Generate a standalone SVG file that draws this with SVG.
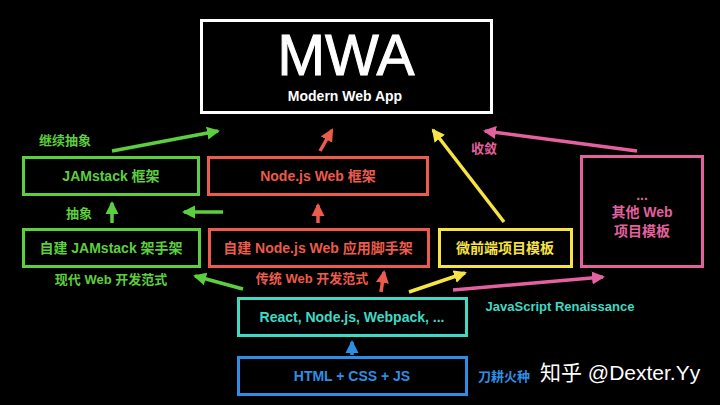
<svg xmlns="http://www.w3.org/2000/svg" width="720" height="405" viewBox="0 0 720 405">
<defs>
<style>
.box{fill:none;stroke-width:3}
.t{font-family:"Liberation Sans","Noto Sans CJK SC",sans-serif;font-weight:bold;font-size:14px;text-anchor:middle;dominant-baseline:central}
.l{font-family:"Liberation Sans","Noto Sans CJK SC",sans-serif;font-weight:bold;font-size:13px;text-anchor:middle;dominant-baseline:central}
.a{fill:none;stroke-width:3.5}
.g{stroke:#5ccf3e}.gf{fill:#5ccf3e}
.r{stroke:#ec5b4b}.rf{fill:#ec5b4b}
.y{stroke:#f6e443}.yf{fill:#f6e443}
.p{stroke:#e2619e}.pf{fill:#e2619e}
.c{stroke:#3fd9c7}.cf{fill:#3fd9c7}
.b{stroke:#2d8fe4}.bf{fill:#2d8fe4}
</style>
<marker id="mg" markerUnits="userSpaceOnUse" markerWidth="14" markerHeight="14" refX="11" refY="6.5" orient="auto" viewBox="0 0 14 13"><path d="M0,0 L13,6.5 L0,13 z" fill="#5ccf3e"/></marker>
<marker id="mr" markerUnits="userSpaceOnUse" markerWidth="14" markerHeight="14" refX="11" refY="6.5" orient="auto" viewBox="0 0 14 13"><path d="M0,0 L13,6.5 L0,13 z" fill="#ec5b4b"/></marker>
<marker id="my" markerUnits="userSpaceOnUse" markerWidth="14" markerHeight="14" refX="11" refY="6.5" orient="auto" viewBox="0 0 14 13"><path d="M0,0 L13,6.5 L0,13 z" fill="#f6e443"/></marker>
<marker id="mp" markerUnits="userSpaceOnUse" markerWidth="14" markerHeight="14" refX="11" refY="6.5" orient="auto" viewBox="0 0 14 13"><path d="M0,0 L13,6.5 L0,13 z" fill="#e2619e"/></marker>
<marker id="mb" markerUnits="userSpaceOnUse" markerWidth="14" markerHeight="14" refX="11" refY="6.5" orient="auto" viewBox="0 0 14 13"><path d="M0,0 L13,6.5 L0,13 z" fill="#2d8fe4"/></marker>
</defs>
<rect width="720" height="405" fill="#000"/>

<g id="mwa">
<rect x="201.5" y="20.5" width="290" height="92" fill="none" stroke="#fff" stroke-width="3"/>
<text x="346" y="75" font-family="Liberation Sans, sans-serif" font-size="57" fill="#fff" stroke="#fff" stroke-width="1" text-anchor="middle">MWA</text>
<text x="345" y="101" font-family="Liberation Sans, sans-serif" font-size="14" font-weight="bold" fill="#fff" text-anchor="middle">Modern Web App</text>
</g>

<g id="jamstack-framework">
<rect class="box g" x="23.5" y="157.5" width="175" height="37"/>
<text class="t gf" x="111" y="176">JAMstack 框架</text>
</g>

<g id="node-framework">
<rect class="box r" x="208.5" y="157.5" width="219" height="37"/>
<text class="t rf" x="318" y="176">Node.js Web 框架</text>
</g>

<g id="jamstack-scaffold">
<rect class="box g" x="23.5" y="229.5" width="176" height="37"/>
<text class="t gf" x="111" y="248">自建 JAMstack 架手架</text>
</g>

<g id="node-scaffold">
<rect class="box r" x="209.5" y="229.5" width="219" height="37"/>
<text class="t rf" x="318" y="248">自建 Node.js Web 应用脚手架</text>
</g>

<g id="micro-frontend">
<rect class="box y" x="439.5" y="229.5" width="132" height="37"/>
<text class="t yf" x="505" y="248">微前端项目模板</text>
</g>

<g id="other-web">
<rect class="box p" x="581.5" y="156.5" width="121" height="110"/>
<text class="t pf" x="642" y="195">...</text>
<text class="t pf" x="642" y="212">其他 Web</text>
<text class="t pf" x="642" y="231">项目模板</text>
</g>

<g id="react">
<rect class="box c" x="238.5" y="298.5" width="228" height="37"/>
<text class="t cf" x="352" y="317">React, Node.js, Webpack, ...</text>
</g>

<g id="html">
<rect class="box b" x="238.5" y="357.5" width="228" height="37"/>
<text class="t bf" x="352" y="376">HTML + CSS + JS</text>
</g>

<g id="labels">
<text class="l gf" x="65" y="140">继续抽象</text>
<text class="l gf" x="79" y="213">抽象</text>
<text class="l gf" x="111" y="279">现代 Web 开发范式</text>
<text class="l rf" x="312" y="278">传统 Web 开发范式</text>
<text class="l pf" x="484" y="148">收敛</text>
<text class="l cf" x="560" y="306">JavaScript Renaissance</text>
<text class="l bf" x="504" y="376">刀耕火种</text>
</g>

<g id="connectors">
<line class="a g" x1="112" y1="151" x2="218" y2="131" marker-end="url(#mg)"/>
<line class="a r" x1="320" y1="151" x2="332" y2="130" marker-end="url(#mr)"/>
<line class="a y" x1="504" y1="222" x2="433" y2="130" marker-end="url(#my)"/>
<line class="a p" x1="637" y1="151" x2="485" y2="131" marker-end="url(#mp)"/>
<line class="a g" x1="112" y1="223" x2="112" y2="203" marker-end="url(#mg)"/>
<line class="a g" x1="223" y1="212" x2="184" y2="212" marker-end="url(#mg)"/>
<line class="a r" x1="318" y1="223" x2="318" y2="205" marker-end="url(#mr)"/>
<line class="a g" x1="243" y1="289" x2="195" y2="276" marker-end="url(#mg)"/>
<line class="a r" x1="381" y1="292" x2="384" y2="272" marker-end="url(#mr)"/>
<line class="a y" x1="409" y1="292" x2="465" y2="273" marker-end="url(#my)"/>
<line class="a p" x1="453" y1="290" x2="603" y2="277" marker-end="url(#mp)"/>
<line class="a b" x1="352" y1="355" x2="352" y2="342" marker-end="url(#mb)"/>
</g>

<text x="540" y="380" font-family="Liberation Sans, Noto Sans CJK SC, sans-serif" font-size="21" fill="#fff">知乎 @Dexter.Yy</text>
</svg>
